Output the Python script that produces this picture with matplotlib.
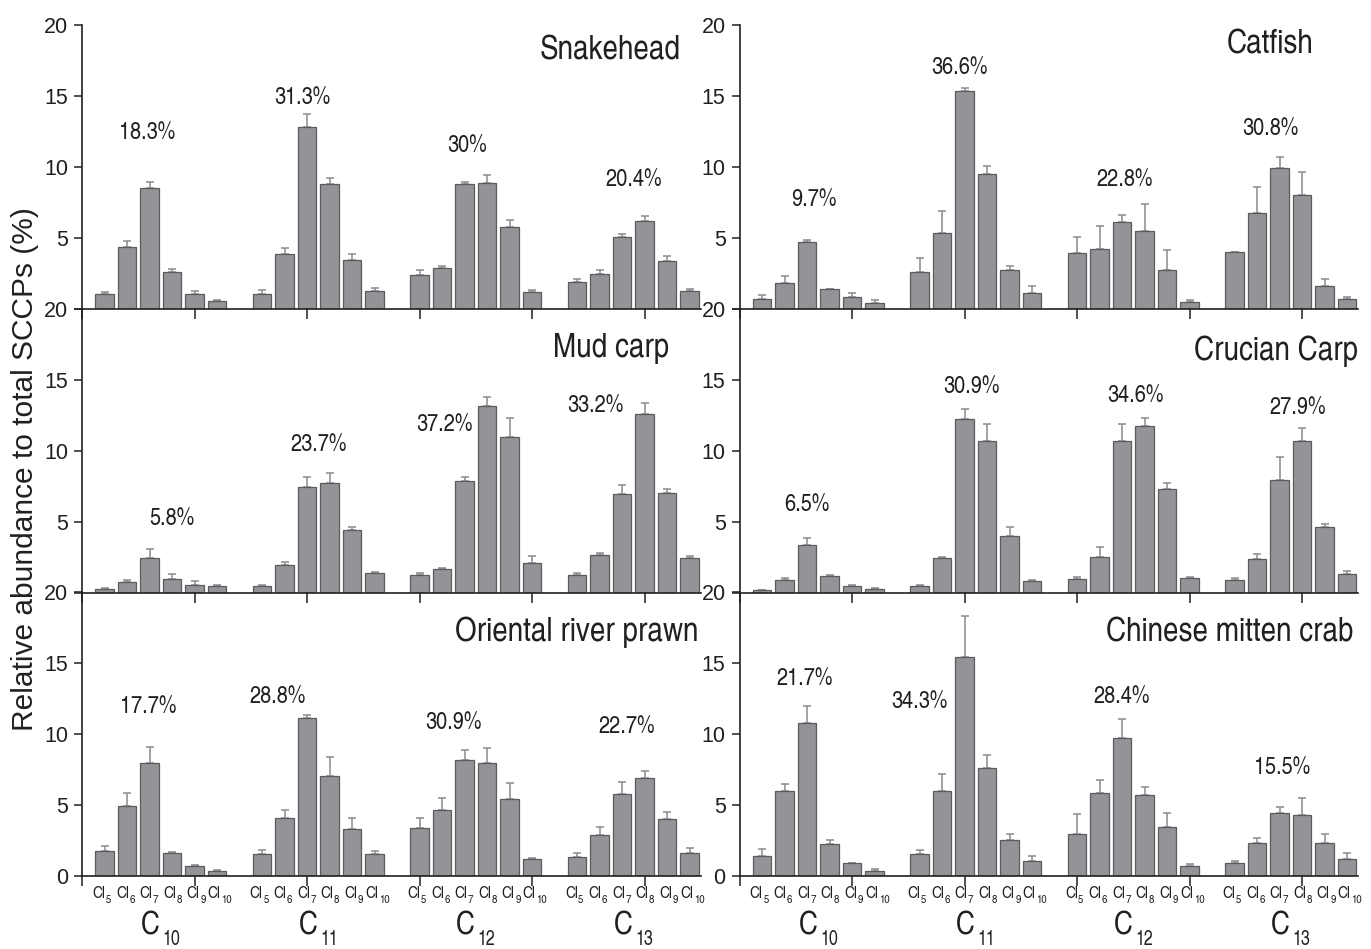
import numpy as np
import matplotlib
matplotlib.use("Agg")
import matplotlib.pyplot as plt
from matplotlib import font_manager
from matplotlib.transforms import blended_transform_factory, offset_copy

# ---------------------------------------------------------------- data
chains = ["C10", "C11", "C12", "C13"]
chlorine = ["Cl5", "Cl6", "Cl7", "Cl8", "Cl9", "Cl10"]

species = ["Snakehead", "Catfish", "Mud carp", "Crucian Carp",
           "Oriental river prawn", "Chinese mitten crab"]

# mean relative abundance (%) per chain length (rows) and chlorine number (cols)
snakehead = [[1.08, 4.39, 8.50, 2.60, 1.08, 0.59],
             [1.08, 3.90, 12.80, 8.80, 3.47, 1.29],
             [2.39, 2.91, 8.80, 8.87, 5.77, 1.20],
             [1.90, 2.46, 5.07, 6.20, 3.38, 1.29]]
snakehead_sd = [[0.12, 0.42, 0.42, 0.22, 0.16, 0.07],
                [0.23, 0.40, 0.90, 0.42, 0.38, 0.17],
                [0.36, 0.14, 0.14, 0.54, 0.52, 0.11],
                [0.21, 0.26, 0.21, 0.37, 0.35, 0.09]]

catfish = [[0.70, 1.81, 4.72, 1.41, 0.82, 0.40],
           [2.63, 5.33, 15.33, 9.50, 2.72, 1.13],
           [3.92, 4.23, 6.13, 5.52, 2.72, 0.52],
           [4.01, 6.74, 9.90, 8.03, 1.62, 0.70]]
catfish_sd = [[0.26, 0.49, 0.16, 0.00, 0.33, 0.26],
              [0.96, 1.55, 0.23, 0.60, 0.31, 0.47],
              [1.15, 1.59, 0.47, 1.87, 1.46, 0.11],
              [0.00, 1.85, 0.78, 1.62, 0.49, 0.12]]

mud_carp = [[0.28, 0.78, 2.47, 0.99, 0.59, 0.47],
            [0.47, 1.97, 7.47, 7.78, 4.47, 1.39],
            [1.27, 1.67, 7.87, 13.18, 10.98, 2.14],
            [1.27, 2.66, 6.98, 12.64, 7.07, 2.47]]
mud_carp_sd = [[0.07, 0.12, 0.61, 0.33, 0.23, 0.07],
               [0.07, 0.19, 0.69, 0.66, 0.18, 0.07],
               [0.12, 0.12, 0.29, 0.62, 1.31, 0.45],
               [0.12, 0.18, 0.61, 0.71, 0.22, 0.14]]

crucian_carp = [[0.19, 0.90, 3.36, 1.18, 0.47, 0.28],
                [0.47, 2.44, 12.27, 10.67, 4.00, 0.87],
                [0.99, 2.56, 10.67, 11.77, 7.29, 1.06],
                [0.90, 2.37, 7.99, 10.67, 4.68, 1.36]]
crucian_carp_sd = [[0.04, 0.13, 0.54, 0.11, 0.12, 0.10],
                   [0.07, 0.12, 0.68, 1.22, 0.65, 0.05],
                   [0.16, 0.71, 1.22, 0.52, 0.44, 0.09],
                   [0.13, 0.38, 1.58, 0.94, 0.16, 0.17]]

river_prawn = [[1.74, 4.96, 7.98, 1.65, 0.73, 0.35],
               [1.58, 4.07, 11.10, 7.06, 3.29, 1.58],
               [3.36, 4.68, 8.16, 7.98, 5.39, 1.18],
               [1.36, 2.87, 5.76, 6.87, 3.98, 1.65]]
river_prawn_sd = [[0.38, 0.92, 1.10, 0.04, 0.07, 0.07],
                  [0.28, 0.59, 0.26, 1.29, 0.80, 0.18],
                  [0.71, 0.83, 0.73, 1.06, 1.13, 0.11],
                  [0.26, 0.59, 0.83, 0.54, 0.54, 0.33]]

mitten_crab = [[1.44, 5.98, 10.78, 2.28, 0.89, 0.38],
               [1.58, 5.98, 15.39, 7.58, 2.56, 1.06],
               [2.99, 5.88, 9.69, 5.67, 3.48, 0.68],
               [0.89, 2.31, 4.47, 4.28, 2.31, 1.20]]
mitten_crab_sd = [[0.44, 0.47, 1.22, 0.26, 0.05, 0.11],
                  [0.28, 1.17, 2.89, 0.91, 0.40, 0.33],
                  [1.41, 0.85, 1.35, 0.57, 0.99, 0.19],
                  [0.19, 0.40, 0.42, 1.18, 0.68, 0.42]]

# share of each chain-length group in total SCCPs
group_share = [["18.3%", "31.3%", "30%", "20.4%"],
               ["9.7%", "36.6%", "22.8%", "30.8%"],
               ["5.8%", "23.7%", "37.2%", "33.2%"],
               ["6.5%", "30.9%", "34.6%", "27.9%"],
               ["17.7%", "28.8%", "30.9%", "22.7%"],
               ["21.7%", "34.3%", "28.4%", "15.5%"]]

means = [snakehead, catfish, mud_carp, crucian_carp, river_prawn, mitten_crab]
sds = [snakehead_sd, catfish_sd, mud_carp_sd, crucian_carp_sd,
       river_prawn_sd, mitten_crab_sd]

# ---------------------------------------------------------------- layout
share_pos = [[(2.9, 12.4), (9.8, 14.85), (17.1, 11.5), (24.5, 9.1)],
             [(3.3, 7.7), (9.8, 17.0), (17.1, 9.1), (23.6, 12.7)],
             [(4.0, 5.2), (10.5, 10.4), (16.1, 11.8), (22.8, 13.2)],
             [(3.0, 6.2), (10.3, 14.5), (17.6, 13.9), (24.8, 13.0)],
             [(2.95, 11.9), (8.7, 12.6), (16.5, 10.8), (24.2, 10.5)],
             [(2.9, 13.9), (8.0, 12.25), (17.0, 12.6), (24.1, 7.6)]]
title_pos = [(26.6, 18.2), (25.5, 18.6), (26.1, 17.2),
             (27.5, 17.0), (27.4, 17.2), (27.3, 17.1)]

available = {f.name for f in font_manager.fontManager.ttflist}
narrow = next(n for n in ["TeX Gyre Heros Cn", "Liberation Sans Narrow",
                          "Roboto Condensed", "Liberation Sans"] if n in available)
plain = ["Liberation Sans", "DejaVu Sans"]
plt.rcParams["font.family"] = [narrow, "DejaVu Sans"]

BAR = "#939498"
EDGE = "#5c5c5e"
ERR = "#8a8a8a"
INK = "#231f20"

W, H = 1371, 949
fig = plt.figure(figsize=(W / 100, H / 100), dpi=100)
renderer = fig.canvas.get_renderer()

col_x = [82 / W, 739.5 / W]
ax_w = 618.75 / W
row_top = [25, 309, 592]
row_h = 284

slot = 7  # six bars plus one empty slot per chain-length group
xpos = [g * slot + np.arange(1, 7) for g in range(4)]
label_spread = 1.05  # chlorine labels sit slightly wider apart than the bars


def subscript_label(ax, x, y, base, sub, size, subsize, drop, gap):
    """Centre 'base' + lowered 'sub' on data x, axes-fraction y."""
    tr = blended_transform_factory(ax.transData, ax.transAxes)
    tb = ax.text(x, y, base, transform=tr, ha="left", va="center",
                 fontsize=size, color=INK, clip_on=False)
    ts = ax.text(x, y, sub, transform=tr, ha="left", va="center",
                 fontsize=subsize, color=INK, clip_on=False)
    wb = tb.get_window_extent(renderer).width
    ws = ts.get_window_extent(renderer).width
    left = -(wb + gap + ws) / 2
    tb.set_transform(offset_copy(tr, fig=fig, x=left, y=0, units="dots"))
    ts.set_transform(offset_copy(tr, fig=fig, x=left + wb + gap, y=-drop,
                                 units="dots"))


for k, name in enumerate(species):
    r, c = divmod(k, 2)
    top = row_top[r]
    ax = fig.add_axes([col_x[c], 1 - (top + row_h) / H, ax_w, row_h / H])
    ax.set_xlim(0, 27.5)
    ax.set_ylim(0, 20)
    ax.patch.set_alpha(0)

    for g in range(4):
        m = np.array(means[k][g])
        s = np.array(sds[k][g])
        ax.errorbar(xpos[g], m, yerr=[np.zeros_like(s), s], fmt="none",
                    ecolor=ERR, elinewidth=1.1, capsize=2.6, capthick=1.1,
                    zorder=1)
        ax.bar(xpos[g], m, width=0.81, color=BAR, edgecolor=EDGE,
               linewidth=0.9, zorder=2)
        sx, sy = share_pos[k][g]
        ax.text(sx, sy, group_share[k][g], ha="center", va="center",
                fontsize=17.5, color=INK)

    tx, ty = title_pos[k]
    ax.text(tx, ty, name, ha="right", va="center", fontsize=24.5, color=INK)

    for side in ("top", "right"):
        ax.spines[side].set_visible(False)
    for side in ("left", "bottom"):
        ax.spines[side].set_linewidth(1.2)
        ax.spines[side].set_color(INK)
    ax.set_yticks([0, 5, 10, 15, 20])
    # the zero of an upper panel sits under the "20" of the panel below
    ax.set_yticklabels(["0" if r == 2 else "", "5", "10", "15", "20"],
                       family=plain)
    ax.set_xticks([0, 5, 10, 15, 20, 25])
    ax.set_xticklabels([])
    ax.tick_params(axis="y", direction="out", length=6, width=1.1,
                   labelsize=15.5, pad=4, colors=INK)
    ax.tick_params(axis="x", direction="out", length=7, width=1.1,
                   colors=INK)

    if r == 2:
        for g in range(4):
            centre = xpos[g].mean()
            for i, cl in enumerate(chlorine):
                lx = centre + (xpos[g][i] - centre) * label_spread
                subscript_label(ax, lx, -0.062, "Cl", cl[2:],
                                12, 8.5, 6, 0.5)
            subscript_label(ax, centre, -0.178, "C", chains[g][1:],
                            23, 14, 13, 3)

fig.text(25 / W, 1 - 469 / H, "Relative abundance to total SCCPs (%)",
         rotation=90, ha="center", va="center", fontsize=21.5,
         family=plain, color=INK)

fig.savefig("out.png", dpi=100)
